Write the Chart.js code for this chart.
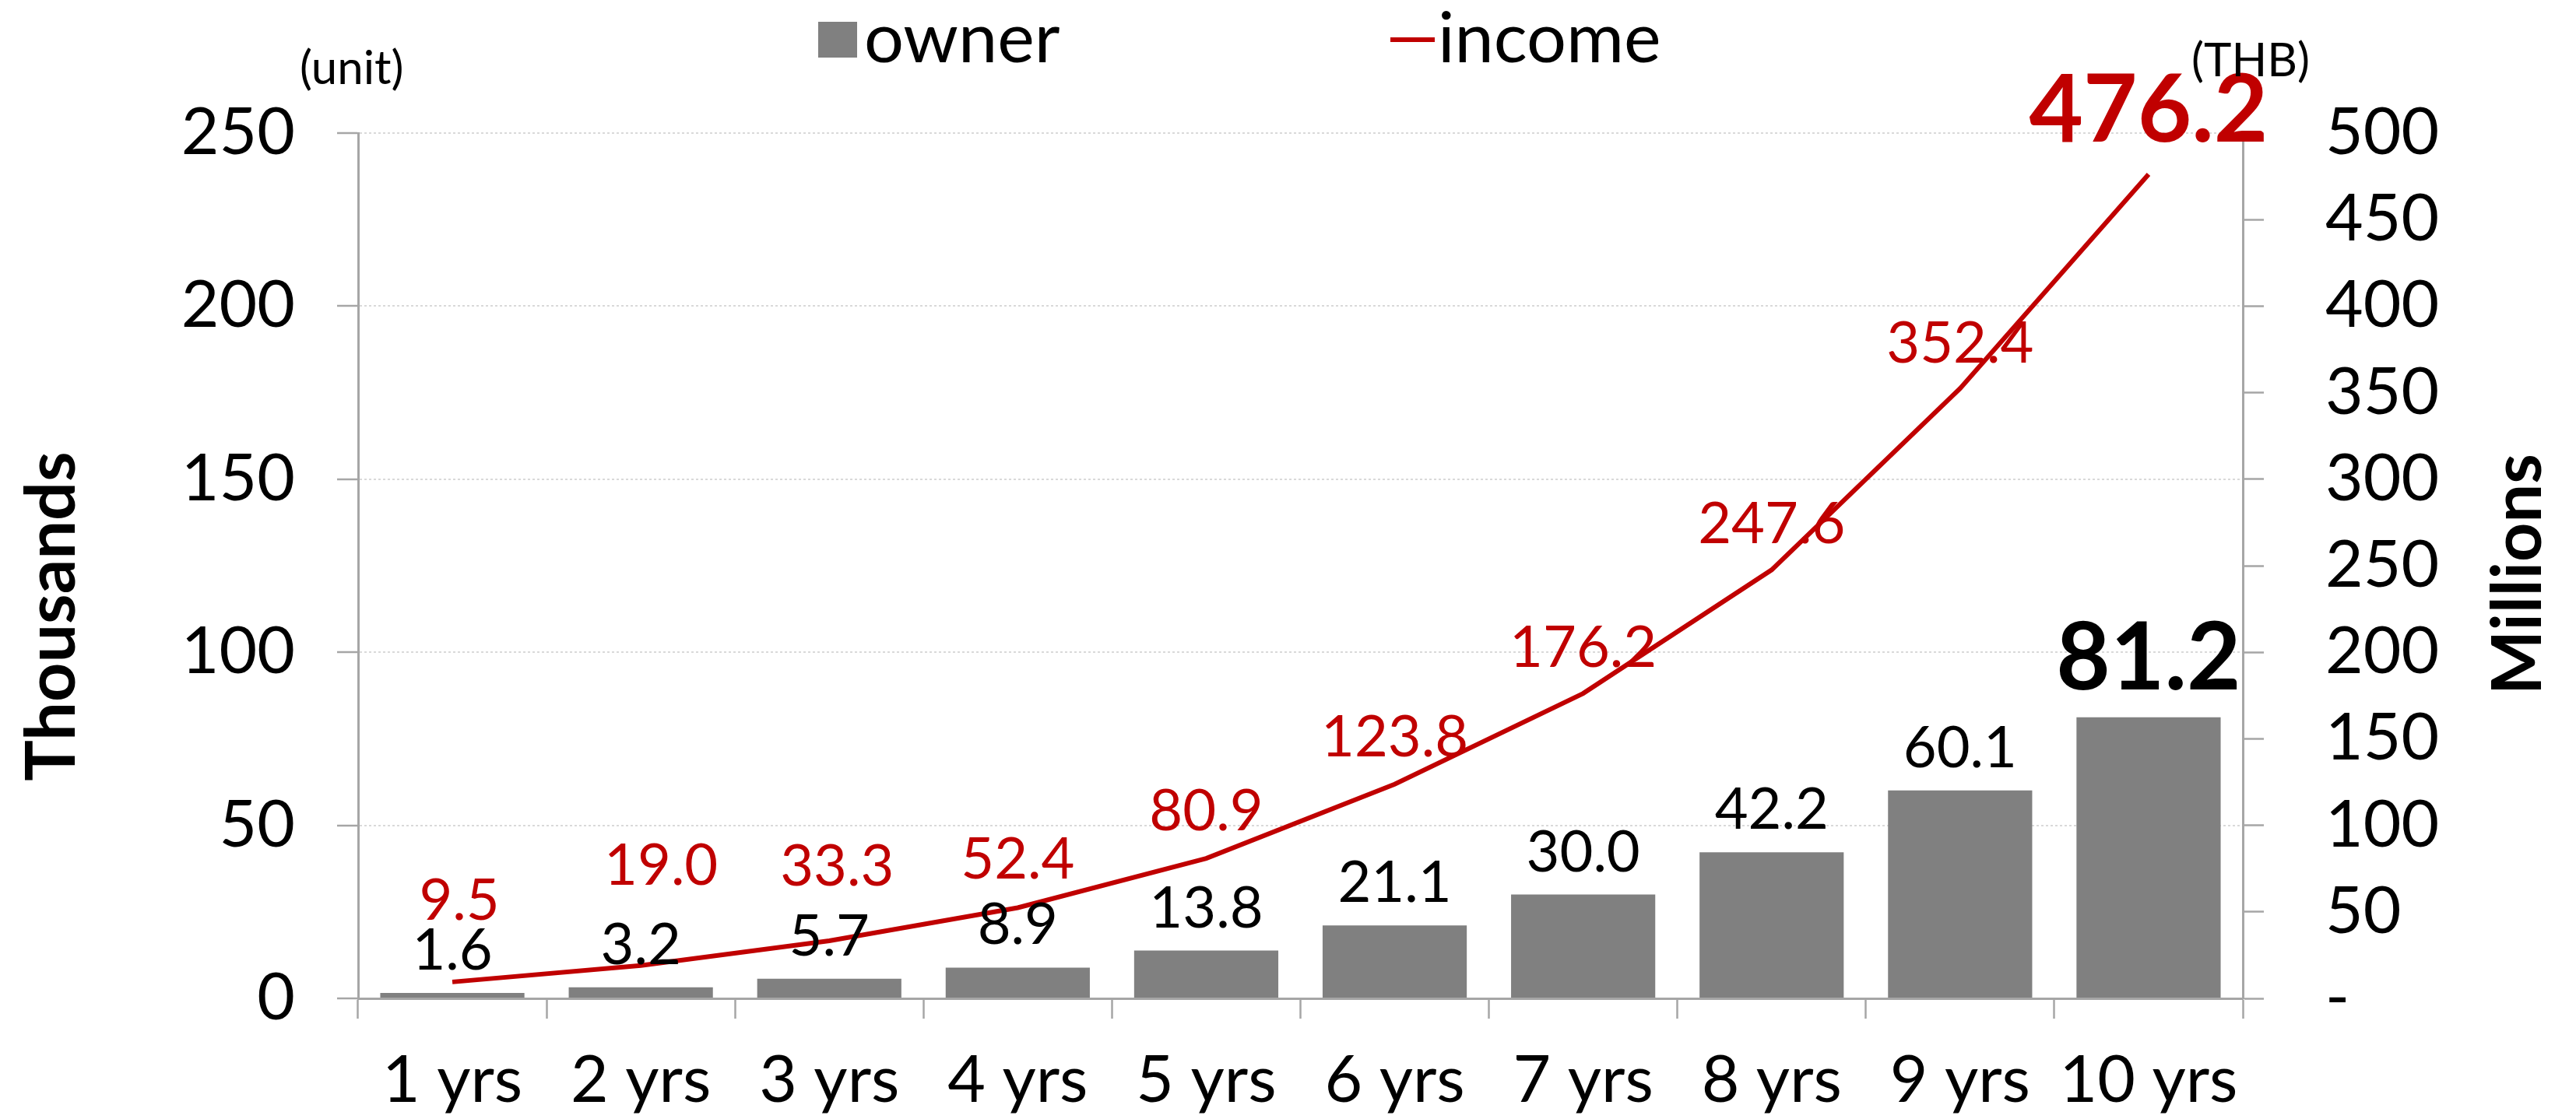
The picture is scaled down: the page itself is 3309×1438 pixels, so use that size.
<!DOCTYPE html>
<html>
<head>
<meta charset="utf-8">
<script src="https://cdn.jsdelivr.net/npm/chart.js@4.4.1/dist/chart.umd.min.js"></script>
<style>
html,body{margin:0;padding:0;background:#ffffff;}
#wrap{width:3309px;height:1438px;position:relative;}
</style>
</head>
<body>
<div id="wrap"><canvas id="c"></canvas></div>
<script>
// ---------- data ----------
const categories = ['1 yrs','2 yrs','3 yrs','4 yrs','5 yrs','6 yrs','7 yrs','8 yrs','9 yrs','10 yrs'];
const ownerValues = [1.6, 3.2, 5.7, 8.9, 13.8, 21.1, 30.0, 42.2, 60.1, 81.2];
const incomeValues = [9.5, 19.0, 33.3, 52.4, 80.9, 123.8, 176.2, 247.6, 352.4, 476.2];
const seriesNames = ['owner', 'income'];
const leftTickValues = [0, 50, 100, 150, 200, 250];
const rightTickValues = [0, 50, 100, 150, 200, 250, 300, 350, 400, 450, 500];
const leftAxisTitle = 'Thousands';
const rightAxisTitle = 'Millions';
const leftUnit = '(unit)';
const rightUnit = '(THB)';

// ---------- style ----------
const FONT = 'Lato, "Open Sans", "DejaVu Sans", sans-serif';
const BAR_COLOR = '#808080';
const LINE_COLOR = '#C00000';
const AXIS_COLOR = '#a6a6a6';
const GRID_COLOR = '#d9d9d9';
// label placement (dx, baseline offset above point)
const incomeLabelShift = [[9,-80],[26,-104],[10,-71],[0,-37],[0,-36],[0,-36],[0,-34],[0,-34],[0,-33],[0,-42]];

const annotPlugin = {
  id: 'annot',
  afterDatasetsDraw(chart) {
    const ctx = chart.ctx;
    ctx.save();
    ctx.textAlign = 'center';
    ctx.textBaseline = 'alphabetic';
    const barMeta = chart.getDatasetMeta(0);
    const n = barMeta.data.length;
    barMeta.data.forEach((el, i) => {
      const last = i === n - 1;
      ctx.font = (last ? 'bold 120px ' : '74px ') + FONT;
      ctx.fillStyle = '#000000';
      ctx.fillText(ownerValues[i].toFixed(1), el.x, el.y - (last ? 36 : 30));
    });
    const lineMeta = chart.getDatasetMeta(1);
    lineMeta.data.forEach((el, i) => {
      const last = i === n - 1;
      ctx.font = (last ? 'bold 120px ' : '74px ') + FONT;
      ctx.fillStyle = LINE_COLOR;
      const s = incomeLabelShift[i];
      ctx.fillText(incomeValues[i].toFixed(1), el.x + s[0], el.y + s[1]);
    });
    ctx.restore();
  },
  afterDraw(chart) {
    const ctx = chart.ctx;
    ctx.save();
    // legend
    ctx.fillStyle = BAR_COLOR;
    ctx.fillRect(1051, 28, 50, 46);
    ctx.font = '90px ' + FONT;
    ctx.fillStyle = '#000000';
    ctx.textAlign = 'left';
    ctx.textBaseline = 'alphabetic';
    ctx.fillText(seriesNames[0], 1110, 80);
    ctx.strokeStyle = LINE_COLOR;
    ctx.lineWidth = 6;
    ctx.beginPath(); ctx.moveTo(1786, 51); ctx.lineTo(1843, 51); ctx.stroke();
    ctx.fillText(seriesNames[1], 1847, 80);
    // units
    ctx.font = '60px ' + FONT;
    ctx.fillText(leftUnit, 385, 108);
    ctx.fillText(rightUnit, 2815, 98);
    // axis titles
    ctx.font = 'bold 88px ' + FONT;
    ctx.textAlign = 'center';
    ctx.textBaseline = 'middle';
    ctx.save(); ctx.translate(68, 792); ctx.rotate(-Math.PI / 2); ctx.fillText(leftAxisTitle, 0, 0); ctx.restore();
    ctx.save(); ctx.translate(3236, 738); ctx.rotate(-Math.PI / 2); ctx.fillText(rightAxisTitle, 0, 0); ctx.restore();
    ctx.restore();
  }
};

const tickFont = { family: FONT, size: 84 };

new Chart(document.getElementById('c'), {
  data: {
    labels: categories,
    datasets: [
      {
        type: 'bar', label: seriesNames[0], data: ownerValues, yAxisID: 'y',
        backgroundColor: BAR_COLOR, borderWidth: 0,
        categoryPercentage: 1.0, barPercentage: 0.765, order: 1
      },
      {
        type: 'line', label: seriesNames[1], data: incomeValues, yAxisID: 'y1',
        borderColor: LINE_COLOR, backgroundColor: LINE_COLOR, borderWidth: 6,
        pointRadius: 0, tension: 0, fill: false, order: 0
      }
    ]
  },
  options: {
    responsive: true, maintainAspectRatio: false, animation: false, devicePixelRatio: 1,
    layout: { padding: { top: 171, left: 0, right: 0, bottom: 0 } },
    plugins: { legend: { display: false }, tooltip: { enabled: false }, title: { display: false } },
    scales: {
      x: {
        position: 'bottom',
        offset: true,
        grid: { offset: true, drawOnChartArea: false, drawTicks: true, tickLength: 26, tickColor: AXIS_COLOR, tickWidth: 2.5 },
        border: { display: true, color: AXIS_COLOR, width: 3 },
        ticks: { font: tickFont, color: '#000000', padding: 30, maxRotation: 0, autoSkip: false },
        afterFit(scale) { scale.height = 155; }
      },
      y: {
        position: 'left', min: 0, max: 250,
        afterBuildTicks(scale) { scale.ticks = leftTickValues.map(v => ({ value: v })); },
        grid: { color: GRID_COLOR, lineWidth: 2, drawTicks: true, tickLength: 27, tickColor: AXIS_COLOR, tickWidth: 2.5, tickBorderDash: [] },
        border: { display: true, color: AXIS_COLOR, width: 3, dash: [3, 3] },
        ticks: { font: tickFont, color: '#000000', padding: 54 },
        afterFit(scale) { scale.width = 460; }
      },
      y1: {
        position: 'right', min: 0, max: 500,
        afterBuildTicks(scale) { scale.ticks = rightTickValues.map(v => ({ value: v })); },
        grid: { drawOnChartArea: false, drawTicks: true, tickLength: 27, tickColor: AXIS_COLOR, tickWidth: 2.5 },
        border: { display: true, color: AXIS_COLOR, width: 3 },
        ticks: { font: tickFont, color: '#000000', padding: 79, callback: v => (v === 0 ? '-' : String(v)) },
        afterFit(scale) { scale.width = 428; }
      }
    }
  },
  plugins: [annotPlugin]
});
</script>
</body>
</html>
